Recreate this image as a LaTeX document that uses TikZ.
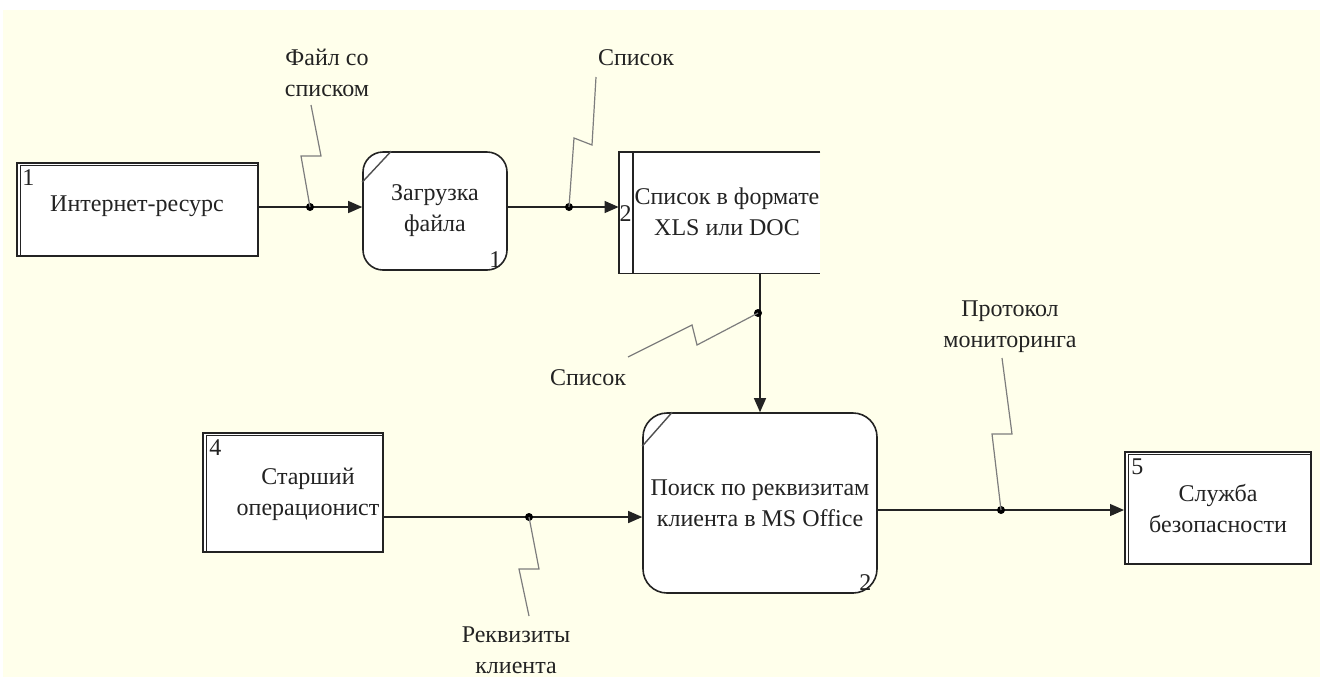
\documentclass[tikz,border=0pt]{standalone}
\usepackage{fontspec}
\setmainfont{Liberation Serif}
\usetikzlibrary{arrows.meta,calc}
\definecolor{paper}{RGB}{255,255,235}
\definecolor{ink}{RGB}{35,35,35}
\definecolor{leadgray}{RGB}{125,125,125}
% inner frame of an external entity (double border)
\newcommand\entityframe[1]{%
  \draw[ink, line width=0.5pt]
    ($(#1.south west)+(4,-2)$) -- ($(#1.north west)+(4,3)$) --
    ($(#1.north east)+(-2,3)$) -- ($(#1.south east)+(-2,-2)$) -- cycle;}
\begin{document}
\begin{tikzpicture}[x=0.5pt,y=-0.5pt,
  font=\fontsize{12}{15.5}\selectfont, text=ink,
  entity/.style={draw=ink, line width=1pt, fill=white, inner sep=0pt},
  process/.style={draw=ink, line width=0.8pt, fill=white, align=center, inner sep=0pt},
  flow/.style={draw=ink, line width=0.6pt, -{Triangle[length=7pt,width=6pt]}},
  leaderline/.style={draw=leadgray, line width=0.6pt},
  junction/.style={circle, fill=black, inner sep=0pt, minimum size=4pt},
  idx/.style={inner sep=0pt},
  lbl/.style={align=center, inner sep=1pt}]
\useasboundingbox (0,0) rectangle (1320,677);
\fill[white] (0,0) rectangle (1320,677);
\fill[paper] (3,10) rectangle (1320,677);

% external entities
\node[entity, minimum width=120.5pt, minimum height=46.5pt] (b1) at (137.5,209.5) {};
\entityframe{b1}
\node (b1t) at (137,206) {Интернет-ресурс};
\node[idx, anchor=north west] (b1n) at ($(b1.north west)+(6,7)$) {1};

\node[entity, minimum width=90pt, minimum height=59.5pt] (b4) at (293,492.5) {};
\entityframe{b4}
\node[lbl] (b4t) at (308,494) {Старший\\операционист};
\node[idx, anchor=north west] (b4n) at ($(b4.north west)+(7,7)$) {4};

\node[entity, minimum width=93pt, minimum height=56pt] (b5) at (1218,508) {};
\entityframe{b5}
\node[lbl] (b5t) at (1218,509) {Служба\\безопасности};
\node[idx, anchor=north west] (b5n) at ($(b5.north west)+(7,7)$) {5};

% data store
\node[inner sep=0pt, minimum width=100.5pt, minimum height=60.5pt] (b2) at (719.5,212.5) {};
\fill[white] (b2.north west) rectangle (b2.south east);
\draw[ink, line width=0.9pt] (b2.north east) -- (b2.north west) -- (b2.south west) -- (b2.south east);
\draw[ink, line width=0.9pt] ($(b2.north west)+(14,0)$) -- ($(b2.south west)+(14,0)$);
\node[lbl] (b2t) at (727,212) {Список в формате\\XLS или DOC};
\node[idx] (b2n) at ($(b2.west)+(7,1)$) {2};

% processes
\node[process, rounded corners=10pt, minimum width=72pt, minimum height=59pt] (p1) at (435,211) {Загрузка\\файла};
\draw[ink!80, line width=0.7pt] ($(p1.north west)+(0,31)$) -- ($(p1.north west)+(29,0)$);
\node[idx, anchor=south east] (p1n) at ($(p1.south east)+(-6,-3)$) {1};

\node[process, rounded corners=12pt, minimum width=117pt, minimum height=90pt] (p2) at (760,503) {Поиск по реквизитам\\клиента в MS Office};
\draw[ink!80, line width=0.7pt] ($(p2.north west)+(0,34)$) -- ($(p2.north west)+(30,0)$);
\node[idx, anchor=south east] (p2n) at ($(p2.south east)+(-6,-3)$) {2};

% flows
\coordinate (rowA) at (0,207);
\coordinate (rowD) at (0,517);
\coordinate (rowE) at (0,510);
\draw[flow] (b1.east |- rowA) -- (p1.west |- rowA);
\draw[flow] (p1.east |- rowA) -- (b2.west |- rowA);
\draw[flow] (b2.south -| p2.north) -- (p2.north);
\draw[flow] (b4.east |- rowD) -- (p2.west |- rowD);
\draw[flow] (p2.east |- rowE) -- (b5.west |- rowE);

% flow labels
\node[lbl] (tA) at (327,73) {Файл со\\списком};
\node[lbl] (tB) at (636,58) {Список};
\node[lbl] (tC) at (588,378) {Список};
\node[lbl] (tD) at (516,650) {Реквизиты\\клиента};
\node[lbl] (tE) at (1010,327) {Протокол\\мониторинга};

% junctions and leader lines
\node[junction] (jA) at (310,207) {};
\node[junction] (jB) at (569,207) {};
\node[junction] (jC) at (758,313) {};
\node[junction] (jD) at (529,517) {};
\node[junction] (jE) at (1001,510) {};
\coordinate (lA) at (311,105);
\coordinate (lB) at (596,77);
\coordinate (lC) at (628,357);
\coordinate (lD) at (529,616);
\coordinate (lE) at (1002,358);
\draw[leaderline] (jA.center) -- ++(-9,-51) -- ++(20,0) -- (lA);
\draw[leaderline] (jB.center) -- ++(5,-69) -- ++(18,7) -- (lB);
\draw[leaderline] (jC.center) -- ++(-61,32) -- ++(-5,-20) -- (lC);
\draw[leaderline] (jD.center) -- ++(10,52) -- ++(-20,0) -- (lD);
\draw[leaderline] (jE.center) -- ++(-9,-76) -- ++(20,0) -- (lE);
\end{tikzpicture}
\end{document}
